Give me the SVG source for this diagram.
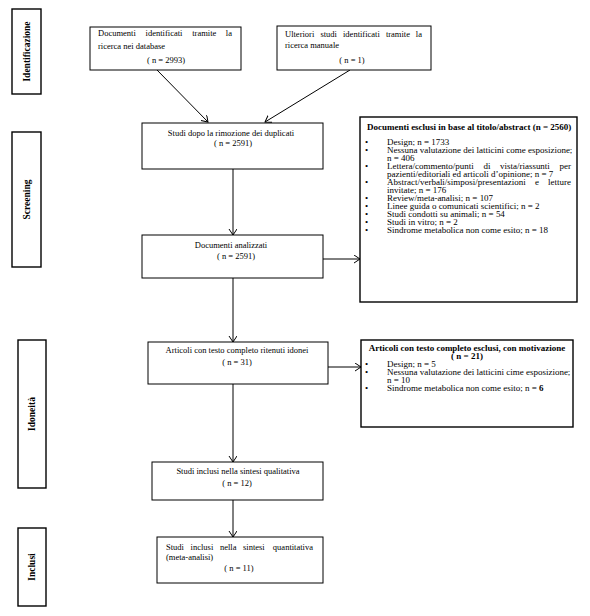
<svg xmlns="http://www.w3.org/2000/svg" width="590" height="616" viewBox="0 0 590 616">
<style>
.bg{fill:#fff}
.box{fill:#fff;stroke:#000;stroke-width:1}
.tbox{fill:#fff;stroke:#000;stroke-width:1.4}
text{font-family:"Liberation Serif","Times New Roman",serif;fill:#000}
.t{font-size:8.5px}
.s{font-size:8px}
.b{font-weight:bold}
.lab{font-size:9.5px;font-weight:bold}
.c{text-anchor:middle}
.con{stroke:#000;stroke-width:1;fill:none}
</style>
<defs>
<marker id="arr" markerUnits="userSpaceOnUse" markerWidth="8" markerHeight="10" refX="6" refY="4" orient="auto">
<path d="M0,0 L6,4 L0,8" fill="none" stroke="#000" stroke-width="1"/>
</marker>
</defs>
<rect class="bg" x="0" y="0" width="590" height="616"/>

<g id="phase-identificazione">
<rect class="tbox" x="12" y="9" width="29" height="85"/>
<text class="lab c" transform="translate(29.5,51.5) rotate(-90)">Identificazione</text>
</g>
<g id="phase-screening">
<rect class="tbox" x="12" y="132" width="29" height="135"/>
<text class="lab c" transform="translate(29.5,199.5) rotate(-90)">Screening</text>
</g>
<g id="phase-idoneita">
<rect class="tbox" x="18" y="340" width="28" height="148"/>
<text class="lab c" transform="translate(35,414) rotate(-90)">Idoneità</text>
</g>
<g id="phase-inclusi">
<rect class="tbox" x="18" y="528" width="28" height="78"/>
<text class="lab c" transform="translate(35,567) rotate(-90)">Inclusi</text>
</g>

<g id="connectors">
<line class="con" x1="157" y1="70" x2="208" y2="122" marker-end="url(#arr)"/>
<line class="con" x1="350" y1="70" x2="265" y2="122" marker-end="url(#arr)"/>
<line class="con" x1="233" y1="169" x2="233" y2="235" marker-end="url(#arr)"/>
<line class="con" x1="323" y1="259" x2="360" y2="259" marker-end="url(#arr)"/>
<line class="con" x1="233" y1="278" x2="233" y2="342" marker-end="url(#arr)"/>
<line class="con" x1="328" y1="367" x2="361" y2="367" marker-end="url(#arr)"/>
<line class="con" x1="233" y1="384" x2="233" y2="462" marker-end="url(#arr)"/>
<line class="con" x1="233" y1="500" x2="233" y2="537" marker-end="url(#arr)"/>
</g>

<g id="n-database">
<rect class="box" x="90" y="27" width="151" height="43"/>
<text class="t" y="36"><tspan x="98">Documenti</tspan><tspan x="145.6">identificati</tspan><tspan x="192.2">tramite</tspan><tspan x="232" text-anchor="end">la</tspan></text>
<text class="t" x="98" y="49">ricerca nei database</text>
<text class="t c" x="166" y="63">( n = 2993)</text>
</g>

<g id="n-manuale">
<rect class="box" x="277" y="26" width="154" height="44"/>
<text class="t" y="37"><tspan x="285">Ulteriori</tspan><tspan x="320.4">studi</tspan><tspan x="343">identificati</tspan><tspan x="385.9">tramite</tspan><tspan x="422" text-anchor="end">la</tspan></text>
<text class="t" x="285" y="48">ricerca manuale</text>
<text class="t c" x="352" y="63">( n = 1)</text>
</g>

<g id="n-duplicati">
<rect class="box" x="142" y="123" width="181" height="46"/>
<text class="t c" x="231" y="136">Studi dopo la rimozione dei duplicati</text>
<text class="t c" x="233" y="146">( n = 2591)</text>
</g>

<g id="n-analizzati">
<rect class="box" x="142" y="235" width="181" height="43"/>
<text class="t c" x="231" y="248">Documenti analizzati</text>
<text class="t c" x="236" y="259">( n = 2591)</text>
</g>

<g id="n-esclusi-titolo">
<rect class="tbox" x="360" y="117" width="217" height="185"/>
<g class="s" transform="matrix(1.125 0 0 1 -48.375 0)">
<text class="b" x="369.2" y="130">Documenti esclusi in base al titolo/abstract (n = 2560)</text>
<text x="367.4" y="144.6">•</text><text x="387" y="144.6">Design; n = 1733</text>
<text x="367.4" y="152.6">•</text><text x="387" y="152.6">Nessuna valutazione dei latticini come esposizione;</text>
<text x="387" y="160.7">n = 406</text>
<text x="367.4" y="168.7">•</text><text y="168.7"><tspan x="387">Lettera/commento/punti</tspan><tspan x="472.8">di</tspan><tspan x="487.4">vista/riassunti</tspan><tspan x="550.6" text-anchor="end">per</tspan></text>
<text x="387" y="176.7">pazienti/editoriali ed articoli d’opinione; n = 7</text>
<text x="367.4" y="184.8">•</text><text y="184.8"><tspan x="387">Abstract/verbali/simposi/presentazioni</tspan><tspan x="518.6">e</tspan><tspan x="550.6" text-anchor="end">letture</tspan></text>
<text x="387" y="192.8">invitate; n = 176</text>
<text x="367.4" y="200.8">•</text><text x="387" y="200.8">Review/meta-analisi; n = 107</text>
<text x="367.4" y="208.9">•</text><text x="387" y="208.9">Linee guida o comunicati scientifici; n = 2</text>
<text x="367.4" y="216.9">•</text><text x="387" y="216.9">Studi condotti su animali; n = 54</text>
<text x="367.4" y="224.9">•</text><text x="387" y="224.9">Studi in vitro; n = 2</text>
<text x="367.4" y="233">•</text><text x="387" y="233">Sindrome metabolica non come esito; n = 18</text>
</g>
</g>

<g id="n-idonei">
<rect class="box" x="148" y="342" width="180" height="42"/>
<text class="t c" x="237" y="353">Articoli con testo completo ritenuti idonei</text>
<text class="t c" x="237" y="365">( n = 31)</text>
</g>

<g id="n-esclusi-testo">
<rect class="tbox" x="361" y="340" width="212" height="87"/>
<g class="s" transform="matrix(1.125 0 0 1 -48.375 0)">
<text class="b c" x="458.1" y="351">Articoli con testo completo esclusi, con motivazione</text>
<text class="b c" x="458.1" y="359">( n = 21)</text>
<text x="367.4" y="367">•</text><text x="387" y="367">Design; n = 5</text>
<text x="367.4" y="375.2">•</text><text x="387" y="375.2">Nessuna valutazione dei latticini cime esposizione;</text>
<text x="387" y="383.3">n = 10</text>
<text x="367.4" y="391.5">•</text><text x="387" y="391.5">Sindrome metabolica non come esito; n = <tspan font-weight="bold">6</tspan></text>
</g>
</g>

<g id="n-qualitativa">
<rect class="box" x="152" y="462" width="171" height="38"/>
<text class="t c" x="238" y="474">Studi inclusi nella sintesi qualitativa</text>
<text class="t c" x="237" y="486">( n = 12)</text>
</g>

<g id="n-quantitativa">
<rect class="box" x="157" y="537" width="166" height="46"/>
<text class="t" y="550"><tspan x="166">Studi</tspan><tspan x="190.6">inclusi</tspan><tspan x="219.9">nella</tspan><tspan x="243">sintesi</tspan><tspan x="313" text-anchor="end">quantitativa</tspan></text>
<text class="t" x="166" y="560">(meta-analisi)</text>
<text class="t c" x="239" y="571">( n = 11)</text>
</g>
</svg>
